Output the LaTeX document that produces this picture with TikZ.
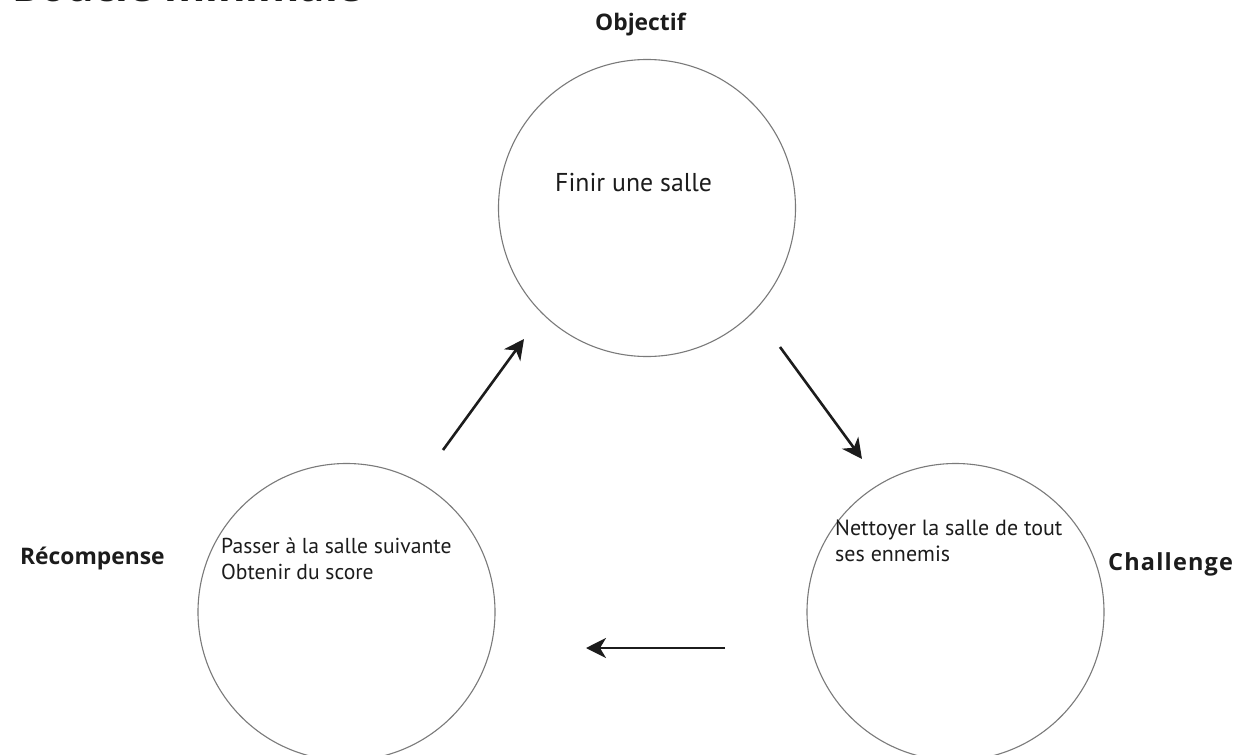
\documentclass[tikz,border=0pt]{standalone}
\usepackage{fontspec}
\setmainfont{PT Sans}
\newfontfamily\headfont{Open Sans}
\usetikzlibrary{arrows.meta}

\definecolor{ink}{HTML}{1C1C1C}
\definecolor{rim}{HTML}{7A7A7A}

\tikzset{
  stage/.style={circle, draw=rim, line width=1.1pt, minimum size=297pt, inner sep=0pt},
  heading/.style={font=\headfont\bfseries\fontsize{22.8}{26}\selectfont, text=ink, inner sep=0pt, anchor=base west},
  body/.style={font=\fontsize{22}{26}\selectfont, text=ink, inner sep=0pt, anchor=base west, align=left},
  flow/.style={-{Stealth[length=20pt, width=20pt, inset=6pt]}, line width=2.6pt, draw=ink}
}

\begin{document}
\begin{tikzpicture}[x=1pt, y=-1pt]
  \useasboundingbox[fill=white] (0,0) rectangle (1259,755);

  % title line, cut by the top edge of the page
  \node[heading, font=\headfont\bfseries\fontsize{42}{48}\selectfont] (title) at (12,1) {Boucle minimale};

  % the three stages of the loop
  \node[stage] (objectif) at (647,208) {};
  \node[stage] (recompense) at (346.5,612) {};
  \node[stage] (challenge) at (955.5,612) {};

  % stage names
  \node[heading] (lobj) at (595,30) {Objectif};
  \node[heading] (lrec) at (20,564) {Récompense};
  \node[heading, font=\headfont\bfseries\fontsize{23.5}{26}\selectfont\addfontfeature{LetterSpace=5}] (lcha) at (1108,570) {Challenge};

  % stage contents
  \node[body, font=\fontsize{25.8}{28}\selectfont] (tobj) at (555,191) {Finir une salle};
  \node[body, font=\fontsize{21.6}{25.5}\selectfont] (trec) at (221,579) {Passer à la salle suivante\\Obtenir du score};
  \node[body] (tcha) at (835,561) {Nettoyer la salle de tout\\ses ennemis};

  % arrow ends between the circles
  \coordinate (r2o-a) at (443,450);
  \coordinate (r2o-b) at (524,339);
  \coordinate (o2c-a) at (780,347);
  \coordinate (o2c-b) at (862,459);
  \coordinate (c2r-a) at (725,648);
  \coordinate (c2r-b) at (586,648);

  \draw[flow] (r2o-a) -- (r2o-b);
  \draw[flow] (o2c-a) -- (o2c-b);
  \draw[flow] (c2r-a) -- (c2r-b);
\end{tikzpicture}
\end{document}
